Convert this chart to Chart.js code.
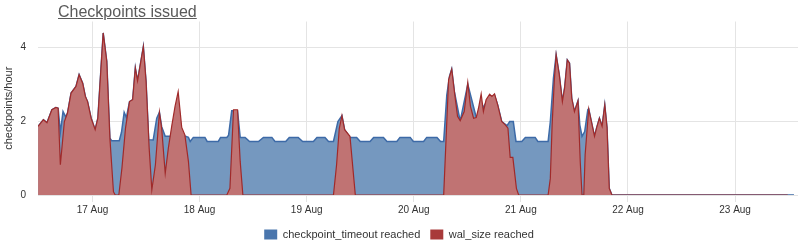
<!DOCTYPE html>
<html>
<head>
<meta charset="utf-8">
<script src="https://cdn.jsdelivr.net/npm/chart.js@4.4.1/dist/chart.umd.min.js"></script>
<style>
    html, body { margin: 0; padding: 0; background: #fff; }
    #wrap { position: relative; width: 800px; height: 246px; overflow: hidden; }
    #title {
        position: absolute; left: 58px; top: 3px;
        font: 16px "Liberation Sans", Arial, sans-serif;
        color: #5a5a5a; text-decoration: underline;
    }
</style>
</head>
<body>
<div id="wrap">
    <div id="title">Checkpoints issued</div>
    <canvas id="chart" width="800" height="246"></canvas>
</div>
<script>
// hours since 17 Aug 00:00
const dayLabels = ['17 Aug', '18 Aug', '19 Aug', '20 Aug', '21 Aug', '22 Aug', '23 Aug'];
const yTicks = [0, 2, 4];

// checkpoint_timeout reached
const timeoutHours = [-12.2, -11, -10.2, -9.1, -8.2, -7.7, -7.2, -6.6, -6.0, -5.6, -4.8, -3.7, -3.0, -2.2, -1.6, -1.1, -0.3, 0.6, 1.2, 2.4, 3.2, 3.9, 4.3, 6.0, 6.5, 7.1, 7.6, 8.3, 9.0, 9.6, 10.1, 11.4, 12.0, 12.6, 13.6, 14.4, 15.0, 15.5, 16.3, 17.5, 20.0, 20.7, 21.5, 21.9, 22.6, 25.2, 25.7, 28.2, 28.7, 30.1, 30.5, 31.2, 32.5, 33.1, 34.2, 35.2, 37.2, 38.3, 40.2, 40.9, 43.3, 44.1, 46.1, 47.1, 49.5, 50.3, 52.1, 52.9, 54.0, 55.0, 55.9, 56.5, 57.7, 59.2, 60.0, 62.2, 63.0, 65.2, 66.0, 68.2, 68.9, 71.2, 71.9, 74.2, 74.9, 77.2, 78.0, 78.7, 79.4, 80.0, 80.5, 81.1, 82.4, 84.1, 86.0, 88.2, 90.1, 90.8, 91.7, 92.9, 93.5, 94.3, 94.9, 96.2, 97.0, 99.2, 99.8, 102.1, 102.6, 103.3, 103.9, 104.6, 105.3, 105.8, 106.4, 106.9, 107.4, 108.0, 108.8, 109.2, 109.7, 110.3, 111.0, 111.2, 111.8, 112.5, 113.0, 113.6, 114.2, 114.8, 115.3, 115.8, 116.4, 157.2];
const timeoutValues = [1.86, 2.04, 1.96, 2.31, 2.37, 2.35, 1.7, 2.26, 2.12, 2.22, 2.76, 2.94, 3.26, 3.03, 2.67, 2.53, 2.08, 1.77, 2.08, 4.39, 3.62, 1.54, 1.47, 1.47, 1.7, 2.24, 2.1, 2.53, 2.58, 3.44, 3.09, 4.02, 3.08, 1.5, 1.49, 2.08, 2.24, 1.85, 1.59, 1.59, 1.6, 1.6, 1.56, 1.45, 1.56, 1.56, 1.45, 1.45, 1.56, 1.56, 1.62, 2.28, 2.28, 1.56, 1.56, 1.45, 1.45, 1.56, 1.56, 1.45, 1.45, 1.56, 1.56, 1.45, 1.45, 1.56, 1.56, 1.45, 1.45, 1.99, 2.15, 1.77, 1.56, 1.56, 1.45, 1.45, 1.56, 1.56, 1.45, 1.45, 1.56, 1.56, 1.45, 1.45, 1.56, 1.56, 1.45, 1.45, 2.71, 3.21, 3.41, 2.8, 2.0, 3.0, 2.1, 2.5, 2.7, 2.44, 1.99, 1.88, 1.99, 1.99, 1.45, 1.45, 1.56, 1.56, 1.45, 1.45, 1.99, 3.17, 3.8, 3.26, 2.53, 2.9, 3.66, 3.57, 2.62, 2.26, 2.55, 1.9, 1.59, 1.72, 2.31, 2.33, 1.99, 1.59, 1.83, 2.08, 1.86, 2.44, 1.83, 0.18, 0, 0];

// wal_size reached
const walHours = [-12.2, -11, -10.2, -9.1, -8.2, -7.7, -7.2, -6.3, -5.6, -4.8, -3.7, -3.0, -2.2, -1.6, -1.1, -0.3, 0.6, 1.2, 2.4, 3.2, 3.9, 4.7, 5.1, 5.9, 6.6, 7.4, 8.3, 9.0, 9.6, 10.1, 11.4, 12.0, 12.7, 13.3, 14.1, 15.0, 15.5, 16.3, 17.0, 17.8, 18.5, 19.2, 20.0, 20.7, 21.5, 22.1, 30.1, 30.8, 31.6, 32.5, 33.1, 33.7, 54.0, 54.7, 55.3, 55.9, 56.5, 57.7, 58.9, 78.7, 79.8, 80.5, 81.1, 81.8, 82.4, 83.3, 84.1, 84.7, 85.4, 86.0, 86.5, 87.1, 87.6, 88.2, 89.0, 89.5, 90.1, 90.8, 91.7, 92.5, 93.1, 93.6, 94.2, 95.0, 95.5, 102.1, 102.6, 103.0, 103.5, 103.9, 104.6, 105.3, 105.8, 106.4, 106.9, 107.4, 108.0, 108.8, 109.3, 109.7, 110.1, 110.4, 111.2, 111.8, 112.5, 113.0, 113.6, 114.2, 114.8, 115.3, 115.8, 116.4, 155.8];
const walValues = [1.86, 2.04, 1.96, 2.31, 2.37, 2.35, 0.82, 1.99, 2.22, 2.76, 2.94, 3.26, 3.03, 2.67, 2.53, 2.08, 1.77, 2.08, 4.39, 3.62, 1.54, 0.09, 0, 0, 0.73, 1.81, 2.53, 2.58, 3.44, 3.09, 4.02, 3.08, 1.27, 0.14, 0.82, 2.24, 1.81, 0.59, 1.27, 1.9, 2.4, 2.8, 1.83, 1.63, 0.91, 0, 0, 0.18, 2.31, 2.31, 0.91, 0, 0, 0.82, 1.8, 2.15, 1.77, 1.59, 0, 0, 3.12, 3.41, 2.8, 2.13, 2.01, 2.26, 3.05, 2.4, 2.08, 2.1, 2.35, 2.74, 2.26, 2.58, 2.73, 2.67, 2.74, 2.44, 1.99, 1.9, 1.81, 1.02, 1.02, 0.18, 0, 0, 0.45, 1.9, 3.12, 3.8, 3.26, 2.53, 2.9, 3.66, 3.57, 2.62, 2.26, 2.55, 0.91, 0, 0, 1.09, 2.33, 1.99, 1.59, 1.83, 2.08, 1.86, 2.44, 1.83, 0.18, 0, 0];

const toPoints = (hours, values) => hours.map((h, i) => ({ x: h, y: values[i] }));

const textFont = { family: '"Liberation Sans", Arial, sans-serif' };
const legendBoxColors = ['#4a76ad', '#a83a3a'];

new Chart(document.getElementById('chart'), {
    type: 'line',
    data: {
        datasets: [{
            label: 'checkpoint_timeout reached',
            data: toPoints(timeoutHours, timeoutValues),
            borderColor: '#3d6aa7',
            backgroundColor: '#7598bf',
            borderWidth: 1.5,
            fill: 'origin',
            pointRadius: 0,
            tension: 0,
            order: 1
        }, {
            label: 'wal_size reached',
            data: toPoints(walHours, walValues),
            borderColor: '#a02a2a',
            backgroundColor: '#c07373',
            borderWidth: 1.2,
            fill: 'origin',
            pointRadius: 0,
            tension: 0,
            order: 0
        }]
    },
    options: {
        responsive: false,
        animation: false,
        layout: { padding: { top: 21.5, left: 0, right: 2, bottom: -4 } },
        plugins: {
            tooltip: { enabled: false },
            legend: {
                position: 'bottom',
                labels: {
                    boxWidth: 13,
                    boxHeight: 10,
                    padding: 10,
                    color: '#333',
                    font: { ...textFont, size: 11 },
                    sort: (a, b) => a.datasetIndex - b.datasetIndex,
                    generateLabels: chart => Chart.defaults.plugins.legend.labels.generateLabels(chart).map(item => {
                        item.fillStyle = legendBoxColors[item.datasetIndex];
                        item.strokeStyle = legendBoxColors[item.datasetIndex];
                        item.lineWidth = 0;
                        return item;
                    })
                }
            }
        },
        scales: {
            x: {
                type: 'linear',
                min: -12.21,
                max: 158.1,
                afterFit: scale => { scale.height = 24; },
                border: { display: false },
                grid: { color: '#e4e4e4', tickLength: 7, tickColor: '#e4e4e4' },
                ticks: {
                    stepSize: 24,
                    includeBounds: false,
                    autoSkip: false,
                    maxRotation: 0,
                    padding: 2,
                    color: '#333',
                    font: { ...textFont, size: 10 },
                    callback: value => dayLabels[value / 24] ?? ''
                }
            },
            y: {
                min: 0,
                max: 4.7,
                afterFit: scale => { scale.width = 38; },
                border: { display: false },
                grid: { color: '#e4e4e4', drawTicks: false },
                title: {
                    display: true,
                    text: 'checkpoints/hour',
                    color: '#333',
                    padding: { top: 2, bottom: 0 },
                    font: { ...textFont, size: 11 }
                },
                ticks: {
                    stepSize: 2,
                    includeBounds: false,
                    padding: 12,
                    color: '#333',
                    font: { ...textFont, size: 10 },
                    callback: value => yTicks.includes(value) ? String(value) : ''
                }
            }
        }
    }
});
</script>
</body>
</html>
